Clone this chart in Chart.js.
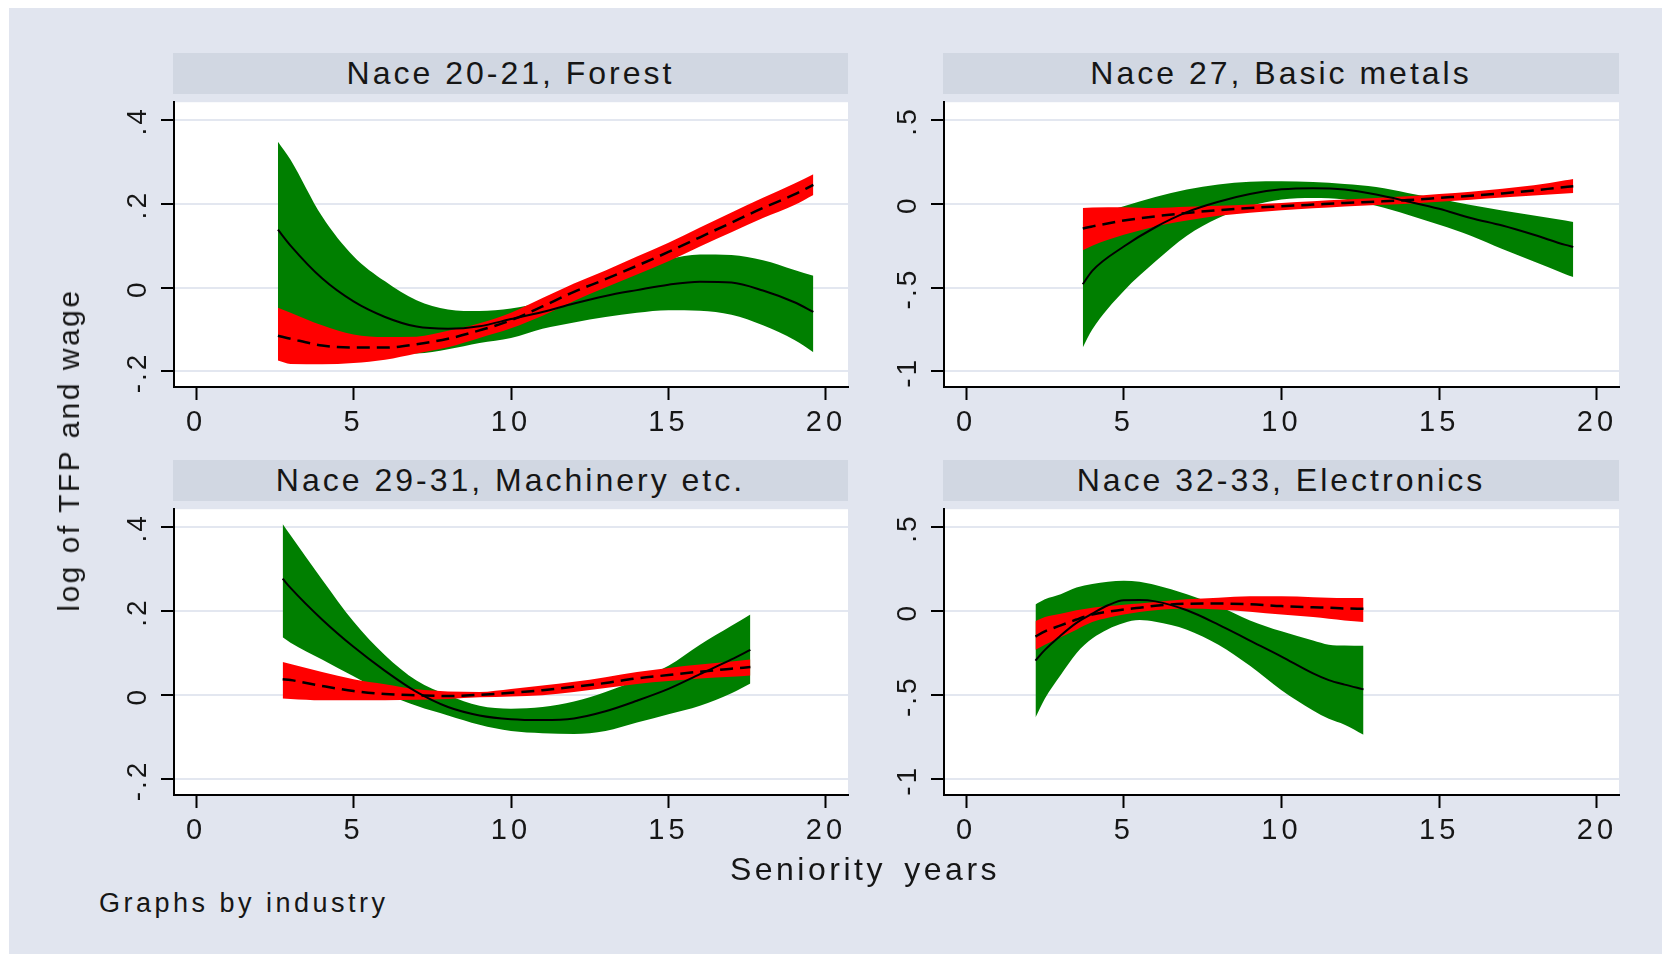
<!DOCTYPE html>
<html>
<head>
<meta charset="utf-8">
<script src="https://cdn.jsdelivr.net/npm/chart.js@4.4.1/dist/chart.umd.min.js"></script>
<style>
  body { margin: 0; background: #fff; width: 1662px; height: 954px; overflow: hidden; position: relative; }
  #bg { position: absolute; left: 9px; top: 8px; right: 0; bottom: 0; background: #e1e5ef; }
  .strip { position: absolute; background: #d1d7e2; color: #161616; text-align: center;
           font: 32px "Liberation Sans", Arial, sans-serif; letter-spacing: 3px; height: 41px; line-height: 41px; }
  canvas { position: absolute; }
  .txt { position: absolute; color: #161616; font-family: "Liberation Sans", Arial, sans-serif; white-space: pre; }
</style>
</head>
<body>
<div id="bg"></div>
<div class="strip" style="left:173px; top:53px; width:675px;">Nace 20-21, Forest</div>
<div class="strip" style="left:943px; top:53px; width:676px;">Nace 27, Basic metals</div>
<div class="strip" style="left:173px; top:460px; width:675px;">Nace 29-31, Machinery etc.</div>
<div class="strip" style="left:943px; top:460px; width:676px;">Nace 32-33, Electronics</div>
<canvas id="forestChart" width="772" height="364" style="left:84px; top:83px;"></canvas>
<canvas id="metalsChart" width="773" height="364" style="left:854px; top:83px;"></canvas>
<canvas id="machChart" width="772" height="365" style="left:84px; top:490px;"></canvas>
<canvas id="elecChart" width="773" height="365" style="left:854px; top:490px;"></canvas>
<div class="txt" style="left:69px; top:450px; font-size:30px; letter-spacing:2.5px; transform: translate(-50%,-50%) rotate(-90deg);">log of TFP and wage</div>
<div class="txt" style="left:865px; top:869px; font-size:32px; letter-spacing:3.5px; word-spacing:6px; transform: translate(-50%,-50%);">Seniority years</div>
<div class="txt" style="left:99px; top:903px; font-size:27px; letter-spacing:3.5px; transform: translateY(-50%);">Graphs by industry</div>
<script>
const xTicks = [0, 5, 10, 15, 20];
const yTicksSmall = [-0.2, 0, 0.2, 0.4];
const yTicksLarge = [-1, -0.5, 0, 0.5];

// Nace 20-21, Forest
const forestYears = [2.6, 3, 4, 5, 6, 7, 8, 9, 10, 11, 12, 13, 14, 15, 16, 17, 18, 19, 19.6];
const forestTfp = [0.138, 0.1, 0.022, -0.033, -0.07, -0.093, -0.098, -0.092, -0.075, -0.058, -0.038, -0.02, -0.006, 0.007, 0.014, 0.012, -0.007, -0.035, -0.058];
const forestTfpHi = [0.348, 0.305, 0.17, 0.075, 0.015, -0.03, -0.052, -0.056, -0.05, -0.035, -0.015, 0.015, 0.045, 0.068, 0.079, 0.078, 0.065, 0.042, 0.028];
const forestTfpLo = [-0.075, -0.1, -0.13, -0.145, -0.153, -0.157, -0.147, -0.132, -0.12, -0.098, -0.083, -0.07, -0.06, -0.054, -0.055, -0.065, -0.09, -0.125, -0.154];
const forestWage = [-0.115, -0.122, -0.138, -0.143, -0.143, -0.135, -0.122, -0.102, -0.078, -0.045, -0.01, 0.02, 0.052, 0.085, 0.12, 0.155, 0.19, 0.222, 0.245];
const forestWageHi = [-0.048, -0.06, -0.09, -0.112, -0.118, -0.117, -0.103, -0.085, -0.06, -0.025, 0.01, 0.041, 0.074, 0.107, 0.143, 0.179, 0.214, 0.248, 0.27];
const forestWageLo = [-0.174, -0.182, -0.183, -0.18, -0.172, -0.157, -0.142, -0.12, -0.097, -0.067, -0.032, 0.0, 0.031, 0.063, 0.098, 0.132, 0.166, 0.197, 0.221];

// Nace 27, Basic metals
const metalsYears = [3.7, 4, 5, 6, 7, 8, 9, 10, 11, 12, 13, 14, 15, 16, 17, 18, 19, 19.25];
const metalsTfp = [-0.48, -0.4, -0.255, -0.14, -0.05, 0.012, 0.058, 0.086, 0.093, 0.085, 0.055, 0.014, -0.03, -0.085, -0.13, -0.185, -0.245, -0.257];
const metalsTfpHi = [-0.1, -0.07, -0.015, 0.04, 0.085, 0.115, 0.132, 0.135, 0.13, 0.118, 0.1, 0.065, 0.03, -0.008, -0.04, -0.07, -0.1, -0.108];
const metalsTfpLo = [-0.857, -0.75, -0.52, -0.345, -0.19, -0.085, -0.015, 0.025, 0.035, 0.025, -0.012, -0.065, -0.125, -0.19, -0.27, -0.345, -0.42, -0.437];
const metalsWage = [-0.147, -0.135, -0.1, -0.075, -0.055, -0.038, -0.025, -0.015, -0.005, 0.005, 0.013, 0.022, 0.035, 0.048, 0.062, 0.08, 0.1, 0.104];
const metalsWageHi = [-0.025, -0.022, -0.02, -0.025, -0.018, -0.012, -0.005, 0.005, 0.015, 0.025, 0.035, 0.045, 0.058, 0.072, 0.09, 0.11, 0.14, 0.148];
const metalsWageLo = [-0.277, -0.25, -0.185, -0.135, -0.1, -0.072, -0.053, -0.038, -0.027, -0.016, -0.008, 0.0, 0.012, 0.024, 0.037, 0.05, 0.062, 0.065];

// Nace 29-31, Machinery etc.
const machYears = [2.75, 3, 4, 5, 6, 7, 8, 9, 10, 11, 12, 13, 14, 15, 16, 17, 17.6];
const machTfp = [0.277, 0.255, 0.18, 0.115, 0.058, 0.008, -0.028, -0.048, -0.057, -0.059, -0.055, -0.038, -0.013, 0.015, 0.05, 0.085, 0.108];
const machTfpHi = [0.407, 0.38, 0.275, 0.175, 0.095, 0.035, 0.0, -0.025, -0.032, -0.028, -0.015, 0.008, 0.036, 0.07, 0.12, 0.165, 0.192];
const machTfpLo = [0.138, 0.125, 0.085, 0.045, 0.005, -0.025, -0.048, -0.07, -0.085, -0.09, -0.092, -0.085, -0.065, -0.045, -0.025, 0.005, 0.028];
const machWage = [0.038, 0.036, 0.022, 0.01, 0.003, 0.0, -0.002, 0.001, 0.006, 0.012, 0.02, 0.029, 0.04, 0.048, 0.056, 0.063, 0.067];
const machWageHi = [0.079, 0.074, 0.055, 0.038, 0.026, 0.014, 0.009, 0.008, 0.015, 0.023, 0.032, 0.043, 0.055, 0.065, 0.073, 0.08, 0.085];
const machWageLo = [-0.008, -0.009, -0.012, -0.012, -0.012, -0.011, -0.009, -0.005, -0.003, 0.0, 0.008, 0.017, 0.027, 0.034, 0.04, 0.044, 0.047];

// Nace 32-33, Electronics
const elecYears = [2.2, 2.5, 3, 3.5, 4, 4.5, 5, 5.5, 6, 7, 8, 9, 10, 11, 11.5, 12, 12.6];
const elecTfp = [-0.294, -0.23, -0.145, -0.07, -0.015, 0.035, 0.065, 0.066, 0.058, 0.005, -0.08, -0.175, -0.27, -0.37, -0.41, -0.437, -0.465];
const elecTfpHi = [0.039, 0.07, 0.1, 0.14, 0.162, 0.175, 0.18, 0.175, 0.155, 0.1, 0.03, -0.055, -0.12, -0.175, -0.2, -0.205, -0.206];
const elecTfpLo = [-0.633, -0.52, -0.38, -0.25, -0.163, -0.107, -0.07, -0.053, -0.063, -0.11, -0.2, -0.325, -0.47, -0.59, -0.64, -0.675, -0.735];
const elecWage = [-0.151, -0.12, -0.085, -0.05, -0.02, -0.003, 0.01, 0.02, 0.032, 0.044, 0.045, 0.041, 0.03, 0.023, 0.02, 0.016, 0.014];
const elecWageHi = [-0.06, -0.035, -0.015, 0.005, 0.02, 0.03, 0.038, 0.045, 0.055, 0.07, 0.08, 0.088, 0.088, 0.083, 0.08, 0.078, 0.078];
const elecWageLo = [-0.23, -0.2, -0.155, -0.11, -0.065, -0.04, -0.02, -0.005, 0.005, 0.015, 0.01, -0.003, -0.02, -0.035, -0.045, -0.055, -0.065];

const FONT = '"Liberation Sans", Arial, sans-serif';

// stata style tick labels: .4, -.2, 0
const fmt = v => {
    if (v === 0) return '0';
    return String(v).replace('0.', '.');
};

const pts = (xs, ys) => xs.map((x, i) => ({ x: x, y: ys[i] }));

// white plot region + rotated y labels
const stataPanel = {
    id: 'stataPanel',
    beforeDraw(chart) {
        const { ctx, chartArea: a } = chart;
        ctx.save();
        ctx.fillStyle = '#ffffff';
        ctx.fillRect(a.left, a.top, a.right - a.left, a.bottom - a.top);
        ctx.restore();
        ctx.letterSpacing = '4px';
    },
    afterDraw(chart) {
        const { ctx, chartArea: a } = chart;
        const yScale = chart.scales.y;
        ctx.save();
        ctx.fillStyle = '#161616';
        ctx.font = '28px ' + FONT;
        ctx.letterSpacing = '3px';
        ctx.textAlign = 'center';
        ctx.textBaseline = 'alphabetic';
        yScale.ticks.forEach(t => {
            const py = yScale.getPixelForValue(t.value);
            ctx.save();
            ctx.translate(a.left - 28, py + 1);
            ctx.rotate(-Math.PI / 2);
            ctx.fillText(fmt(t.value), 0, 0);
            ctx.restore();
        });
        ctx.restore();
    }
};

function makePanel(id, years, tfp, tfpLo, tfpHi, wage, wageLo, wageHi, yTicks, yMin, yMax) {
    const el = document.getElementById(id);
    return new Chart(el.getContext('2d'), {
        type: 'line',
        data: {
            datasets: [
                { data: pts(years, tfpLo), borderWidth: 0, pointRadius: 0, fill: false, order: 5 },
                { data: pts(years, tfpHi), borderWidth: 0, pointRadius: 0, backgroundColor: '#007f00', fill: { target: 0 }, order: 4 },
                { data: pts(years, wageLo), borderWidth: 0, pointRadius: 0, fill: false, order: 3 },
                { data: pts(years, wageHi), borderWidth: 0, pointRadius: 0, backgroundColor: '#ff0000', fill: { target: 2 }, order: 2 },
                { data: pts(years, wage), borderColor: '#000000', borderWidth: 2.5, borderDash: [13, 7], pointRadius: 0, fill: false, order: 1 },
                { data: pts(years, tfp), borderColor: '#000000', borderWidth: 2, pointRadius: 0, fill: false, order: 0 },
            ]
        },
        options: {
            responsive: false,
            animation: false,
            devicePixelRatio: 1,
            cubicInterpolationMode: 'monotone',
            layout: { padding: { top: 12, right: 8, left: 0, bottom: 0 } },
            plugins: {
                legend: { display: false },
                tooltip: { enabled: false },
                title: { display: false }
            },
            scales: {
                x: {
                    type: 'linear',
                    min: -0.7,
                    max: 20.7,
                    afterBuildTicks: s => { s.ticks = xTicks.map(v => ({ value: v })); },
                    afterFit: s => { s.height = 60; },
                    border: { display: true, color: '#000000', width: 2 },
                    grid: { drawOnChartArea: false, drawTicks: true, tickLength: 13, tickColor: '#000000', tickWidth: 2 },
                    ticks: {
                        color: '#161616',
                        padding: 6,
                        maxRotation: 0,
                        font: { family: FONT, size: 29 },
                        callback: v => String(v)
                    }
                },
                y: {
                    type: 'linear',
                    min: yMin,
                    max: yMax,
                    afterBuildTicks: s => { s.ticks = yTicks.map(v => ({ value: v })); },
                    afterFit: s => { s.width = 90; },
                    border: { display: true, color: '#000000', width: 2 },
                    grid: { color: '#e3e7f0', lineWidth: 2, drawTicks: true, tickLength: 13, tickColor: '#000000', tickWidth: 2 },
                    ticks: {
                        color: 'rgba(0,0,0,0)',
                        font: { family: FONT, size: 27 },
                        callback: v => fmt(v)
                    }
                }
            }
        },
        plugins: [stataPanel]
    });
}

makePanel('forestChart', forestYears, forestTfp, forestTfpLo, forestTfpHi, forestWage, forestWageLo, forestWageHi, yTicksSmall, -0.237, 0.442);
makePanel('metalsChart', metalsYears, metalsTfp, metalsTfpLo, metalsTfpHi, metalsWage, metalsWageLo, metalsWageHi, yTicksLarge, -1.093, 0.606);
makePanel('machChart', machYears, machTfp, machTfpLo, machTfpHi, machWage, machWageLo, machWageHi, yTicksSmall, -0.237, 0.442);
makePanel('elecChart', elecYears, elecTfp, elecTfpLo, elecTfpHi, elecWage, elecWageLo, elecWageHi, yTicksLarge, -1.093, 0.606);
</script>
</body>
</html>
